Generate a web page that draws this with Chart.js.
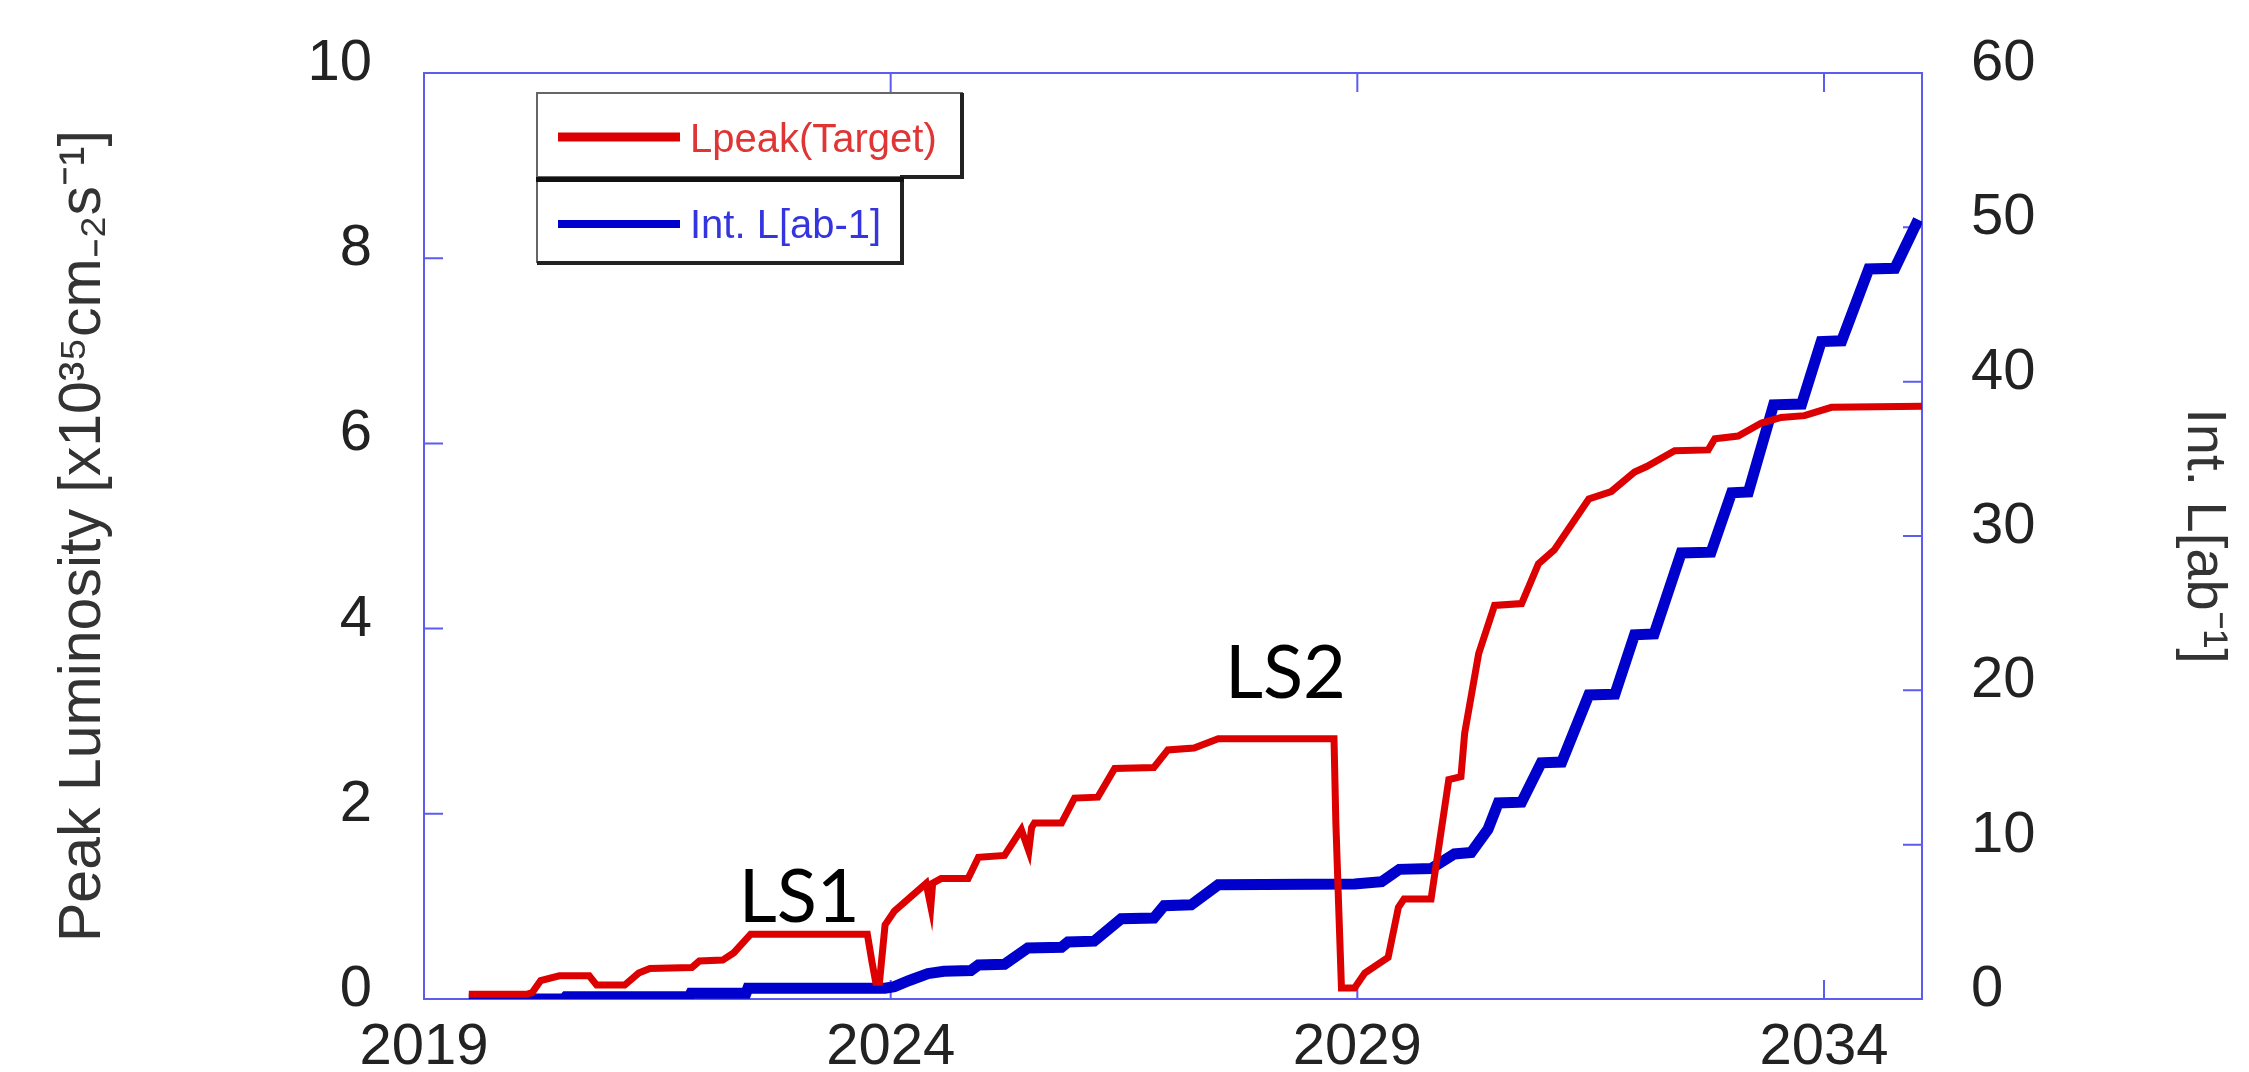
<!DOCTYPE html>
<html>
<head>
<meta charset="utf-8">
<script src="https://cdn.jsdelivr.net/npm/chart.js@4.4.1/dist/chart.umd.min.js"></script>
<style>
  html, body { margin: 0; padding: 0; background: #fff; }
  #wrap { width: 2249px; height: 1072px; position: relative; }
</style>
</head>
<body>
<div id="wrap"><canvas id="grafico"></canvas></div>
<script>
// Lpeak (target), eixo esquerdo [x10^35 cm-2 s-1]
const anosPeak = [2019.48, 2020.10, 2020.16, 2020.25, 2020.45, 2020.77, 2020.85, 2021.15, 2021.30, 2021.42,
  2021.87, 2021.95, 2022.20, 2022.32, 2022.50, 2023.75, 2023.80, 2023.84, 2023.88, 2023.94,
  2024.04, 2024.38, 2024.43, 2024.45, 2024.54, 2024.83, 2024.94, 2025.22, 2025.40, 2025.48,
  2025.51, 2025.54, 2025.83, 2025.97, 2026.22, 2026.40, 2026.82, 2026.97, 2027.25, 2027.51,
  2028.75, 2028.77, 2028.80, 2028.83, 2028.97, 2029.08, 2029.33, 2029.44, 2029.50, 2029.79,
  2029.98, 2030.11, 2030.15, 2030.30, 2030.47, 2030.76, 2030.94, 2031.11, 2031.48, 2031.72,
  2031.97, 2032.10, 2032.40, 2032.76, 2032.83, 2033.08, 2033.33, 2033.54, 2033.79, 2034.08, 2035.05];
const valoresPeak = [0.05, 0.05, 0.07, 0.20, 0.25, 0.25, 0.15, 0.15, 0.28, 0.33,
  0.34, 0.41, 0.42, 0.50, 0.70, 0.70, 0.40, 0.18, 0.18, 0.80,
  0.95, 1.25, 1.00, 1.25, 1.30, 1.30, 1.53, 1.55, 1.83, 1.60,
  1.85, 1.90, 1.90, 2.17, 2.18, 2.49, 2.50, 2.69, 2.71, 2.81,
  2.81, 1.90, 1.00, 0.12, 0.12, 0.28, 0.45, 0.99, 1.08, 1.08,
  2.37, 2.40, 2.87, 3.73, 4.25, 4.27, 4.70, 4.85, 5.40, 5.48,
  5.69, 5.75, 5.92, 5.93, 6.05, 6.08, 6.22, 6.28, 6.30, 6.39, 6.40];

// Int. L, eixo direito [ab-1]
const anosInt = [2019.48, 2020.50, 2020.52, 2021.84, 2021.86, 2022.45, 2022.47, 2023.94, 2024.04, 2024.20,
  2024.40, 2024.57, 2024.86, 2024.94, 2025.22, 2025.47, 2025.83, 2025.90, 2026.18, 2026.47,
  2026.82, 2026.93, 2027.22, 2027.51, 2028.97, 2029.26, 2029.45, 2029.79, 2030.04, 2030.22,
  2030.40, 2030.51, 2030.76, 2030.97, 2031.19, 2031.48, 2031.76, 2031.97, 2032.18, 2032.47,
  2032.79, 2033.01, 2033.19, 2033.46, 2033.76, 2033.97, 2034.19, 2034.48, 2034.76, 2035.01];
const valoresInt = [0.0, 0.0, 0.15, 0.15, 0.38, 0.38, 0.70, 0.70, 0.80, 1.20,
  1.64, 1.80, 1.85, 2.20, 2.25, 3.30, 3.35, 3.70, 3.75, 5.20,
  5.25, 6.05, 6.10, 7.40, 7.45, 7.60, 8.40, 8.45, 9.40, 9.50,
  11.0, 12.70, 12.75, 15.30, 15.35, 19.70, 19.75, 23.60, 23.65, 28.90,
  28.95, 32.80, 32.85, 38.50, 38.55, 42.60, 42.65, 47.30, 47.35, 50.50];

const ticksAno = [2019, 2024, 2029, 2034];
const ticksPeak = [0, 2, 4, 6, 8, 10];
const ticksInt = [0, 10, 20, 30, 40, 50, 60];

const notas = ['LS1', 'LS2'];
const notasAno = [2023.02, 2028.23];
const notasValor = [0.83, 3.25];

const fonte = '"Liberation Sans", Arial, sans-serif';
let corVermelho = '#dd0000';
let corAzul = '#0000cc';
let corMoldura = '#5c5cf0';

// moldura azul com marcas para dentro
const moldura = {
    id: 'moldura',
    beforeDatasetsDraw(chart) {
        const { ctx, chartArea: a, scales } = chart;
        ctx.save();
        ctx.strokeStyle = corMoldura;
        ctx.lineWidth = 2;
        ctx.strokeRect(a.left, a.top, a.right - a.left, a.bottom - a.top);
        ctx.beginPath();
        scales.x.ticks.forEach(t => {
            const px = scales.x.getPixelForValue(t.value);
            ctx.moveTo(px, a.bottom); ctx.lineTo(px, a.bottom - 19);
            ctx.moveTo(px, a.top); ctx.lineTo(px, a.top + 19);
        });
        scales.y.ticks.forEach(t => {
            const py = scales.y.getPixelForValue(t.value);
            ctx.moveTo(a.left, py); ctx.lineTo(a.left + 19, py);
        });
        scales.y1.ticks.forEach(t => {
            const py = scales.y1.getPixelForValue(t.value);
            ctx.moveTo(a.right, py); ctx.lineTo(a.right - 19, py);
        });
        ctx.stroke();
        ctx.restore();
    }
};

// textos LS1 / LS2
const anotacoes = {
    id: 'anotacoes',
    afterDatasetsDraw(chart) {
        const { ctx, scales } = chart;
        ctx.save();
        ctx.font = '74px Lato, "Open Sans", sans-serif';
        ctx.fillStyle = '#000';
        ctx.textAlign = 'center';
        ctx.textBaseline = 'alphabetic';
        notas.forEach((n, i) => {
            ctx.fillText(n, scales.x.getPixelForValue(notasAno[i]), scales.y.getPixelForValue(notasValor[i]));
        });
        ctx.restore();
    }
};

// legenda em duas caixas
const legenda = {
    id: 'legenda',
    afterDraw(chart) {
        const { ctx } = chart;
        const ds = chart.data.datasets;
        ctx.save();
        ctx.fillStyle = '#fff';
        ctx.fillRect(537, 93, 425, 84);
        ctx.fillRect(537, 180, 365, 82);
        ctx.strokeStyle = '#666';
        ctx.lineWidth = 2;
        ctx.strokeRect(537, 93, 425, 84);
        ctx.strokeRect(537, 180, 365, 82);
        ctx.strokeStyle = '#222';
        ctx.lineWidth = 4;
        ctx.beginPath();
        ctx.moveTo(962, 93); ctx.lineTo(962, 177); ctx.lineTo(900, 177);
        ctx.moveTo(902, 180); ctx.lineTo(902, 263); ctx.lineTo(537, 263);
        ctx.stroke();
        ctx.strokeStyle = '#111';
        ctx.lineWidth = 5;
        ctx.beginPath();
        ctx.moveTo(536, 179.5); ctx.lineTo(904, 179.5);
        ctx.stroke();

        ctx.lineWidth = 9;
        ctx.strokeStyle = corVermelho;
        ctx.beginPath(); ctx.moveTo(558, 137); ctx.lineTo(680, 137); ctx.stroke();
        ctx.lineWidth = 8;
        ctx.strokeStyle = corAzul;
        ctx.beginPath(); ctx.moveTo(558, 224); ctx.lineTo(680, 224); ctx.stroke();

        ctx.font = '40px ' + fonte;
        ctx.textAlign = 'left';
        ctx.textBaseline = 'alphabetic';
        ctx.fillStyle = '#e03535';
        ctx.fillText(ds[0].label, 690, 152);
        ctx.fillStyle = '#3535e0';
        ctx.fillText(ds[1].label, 690, 238);
        ctx.restore();
    }
};

const fonteTicks = { family: fonte, size: 58, lineHeight: 1 };

new Chart(document.getElementById('grafico'), {
    type: 'line',
    data: {
        datasets: [{
            label: 'Lpeak(Target)',
            data: anosPeak.map((a, i) => ({ x: a, y: valoresPeak[i] })),
            borderColor: corVermelho,
            borderWidth: 7,
            yAxisID: 'y',
            pointRadius: 0,
            tension: 0,
            fill: false,
            order: 0
        }, {
            label: 'Int. L[ab-1]',
            data: anosInt.map((a, i) => ({ x: a, y: valoresInt[i] })),
            borderColor: corAzul,
            borderWidth: 11,
            yAxisID: 'y1',
            pointRadius: 0,
            tension: 0,
            fill: false,
            order: 1
        }]
    },
    options: {
        responsive: true,
        maintainAspectRatio: false,
        animation: false,
        layout: { padding: { top: 53, left: 0, right: 0, bottom: 0 } },
        plugins: {
            legend: { display: false },
            tooltip: { enabled: false }
        },
        scales: {
            x: {
                type: 'linear',
                min: 2019,
                max: 2035.05,
                afterBuildTicks: s => { s.ticks = ticksAno.map(v => ({ value: v })); },
                afterFit: s => { s.height = 69; },
                grid: { display: false },
                border: { display: false },
                ticks: {
                    padding: 12,
                    color: '#222',
                    font: fonteTicks,
                    maxRotation: 0,
                    autoSkip: false,
                    callback: v => String(v)
                }
            },
            y: {
                position: 'left',
                min: 0,
                max: 10,
                afterBuildTicks: s => { s.ticks = ticksPeak.map(v => ({ value: v })); },
                afterFit: s => { s.width = 424; },
                grid: { display: false },
                border: { display: false },
                ticks: { padding: 44, labelOffset: -9, color: '#222', font: fonteTicks },
                title: {
                    display: true,
                    text: 'Peak Luminosity [x10³⁵cm₋₂s⁻¹]',
                    color: '#333',
                    font: { family: fonte, size: 59 },
                    padding: { top: 48, bottom: 0 }
                }
            },
            y1: {
                position: 'right',
                min: 0,
                max: 60,
                afterBuildTicks: s => { s.ticks = ticksInt.map(v => ({ value: v })); },
                afterFit: s => { s.width = 327; },
                grid: { display: false, drawOnChartArea: false },
                border: { display: false },
                ticks: { padding: 41, labelOffset: -9, color: '#222', font: fonteTicks },
                title: {
                    display: true,
                    text: 'Int. L[ab⁻¹]',
                    color: '#333',
                    font: { family: fonte, size: 56 },
                    padding: { top: 12, bottom: 0 }
                }
            }
        }
    },
    plugins: [moldura, anotacoes, legenda]
});
</script>
</body>
</html>
